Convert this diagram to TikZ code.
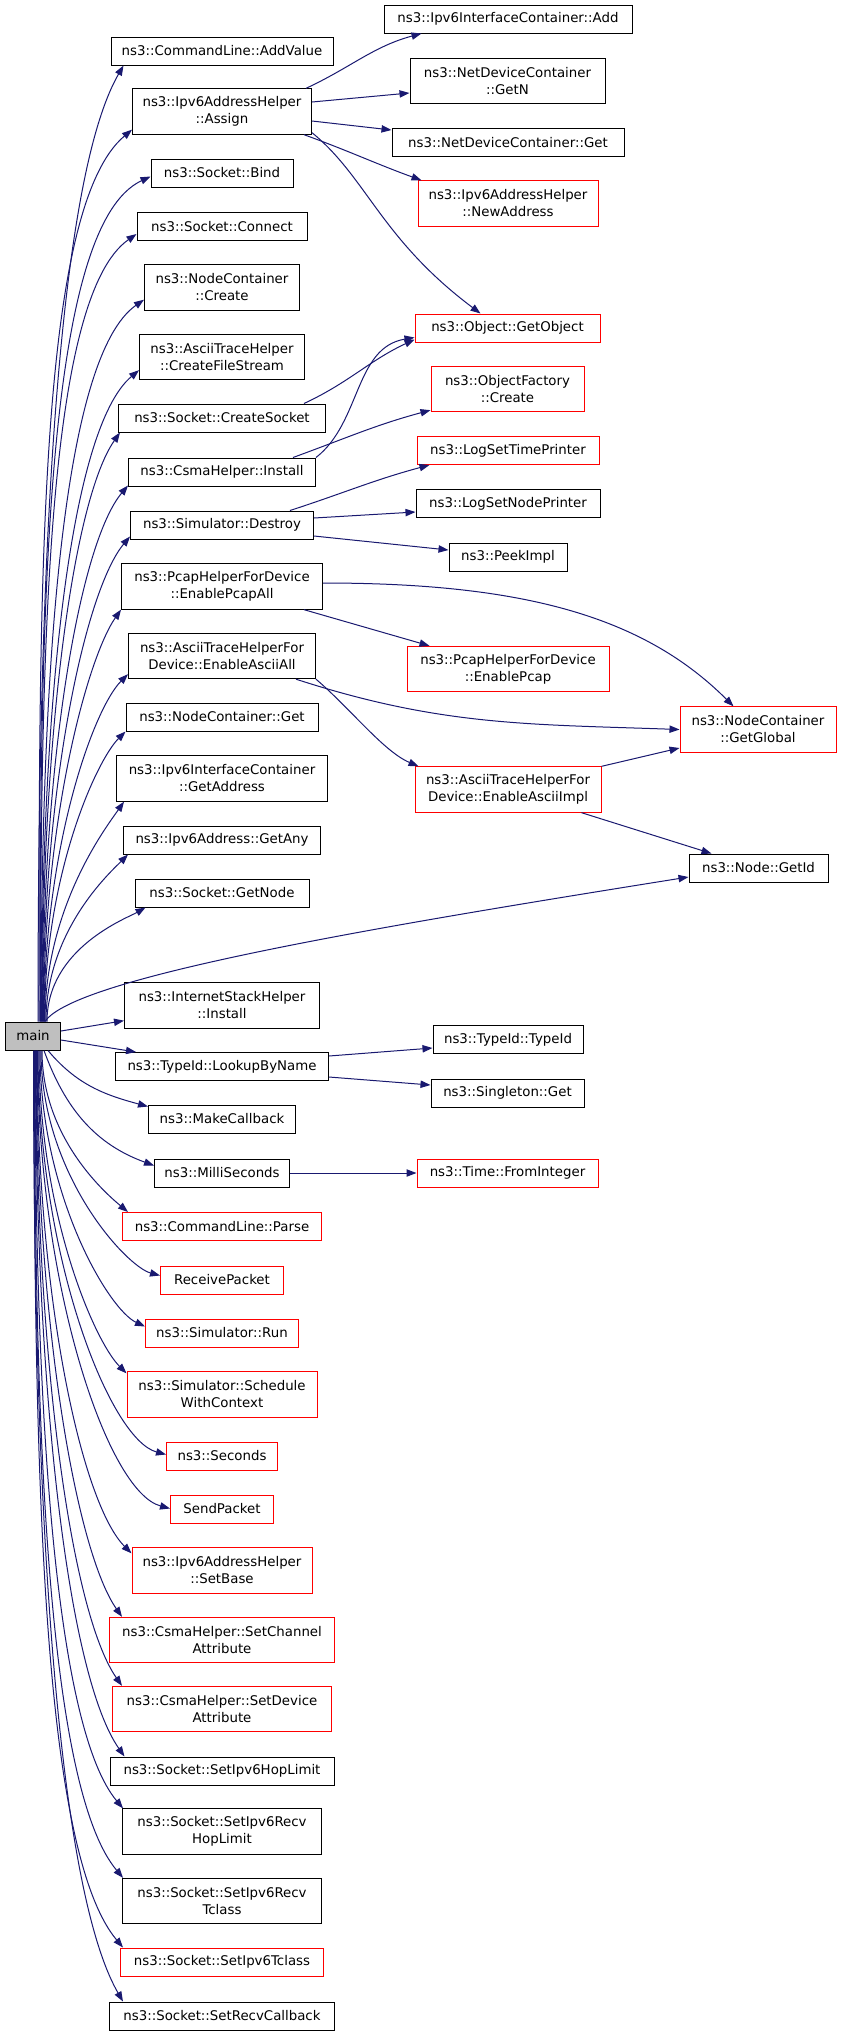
\documentclass[tikz,border=0pt]{standalone}
\usepackage{fontspec}
\setmainfont{DejaVu Sans}
\usetikzlibrary{arrows.meta}
\definecolor{edgeblue}{HTML}{191970}
\definecolor{boxgray}{HTML}{BFBFBF}

\begin{document}
\begin{tikzpicture}[x=0.75pt,y=-0.75pt,
	fn/.style={draw=black,line width=0.75pt,minimum width=#1*0.75pt,minimum height=21pt,inner sep=0pt,align=center,font=\fontsize{10}{12.75}\selectfont},
	two/.style={minimum height=34pt},
	undoc/.style={draw=red},
	call/.style={draw=edgeblue,line width=0.75pt,-{Triangle[length=7.5pt,width=5.5pt]}},
	rise/.style={out=90,in=#1,out looseness=1.25,in looseness=0.35},
	fall/.style={out=-90,in=#1,out looseness=1.25,in looseness=0.35}]
		\fill[white] (0,0) rectangle (843,2036);
		\useasboundingbox (0,0) rectangle (843,2036);
		% callees of main
		\node[fn=222] (addvalue) at (222,51) {ns3::CommandLine::AddValue};
		\node[fn=179,two] (assign) at (222,111.5) {ns3::Ipv6AddressHelper\\::Assign};
		\node[fn=142] (bind) at (222,173) {ns3::Socket::Bind};
		\node[fn=170] (connect) at (222,226.5) {ns3::Socket::Connect};
		\node[fn=155,two] (nccreate) at (222,287.5) {ns3::NodeContainer\\::Create};
		\node[fn=165,two] (filestream) at (222,357) {ns3::AsciiTraceHelper\\::CreateFileStream};
		\node[fn=207] (createsocket) at (222,418) {ns3::Socket::CreateSocket};
		\node[fn=187] (csmainstall) at (222,472) {ns3::CsmaHelper::Install};
		\node[fn=183] (destroy) at (222,525) {ns3::Simulator::Destroy};
		\node[fn=201,two] (pcapall) at (222,586.5) {ns3::PcapHelperForDevice\\::EnablePcapAll};
		\node[fn=187,two] (asciiall) at (222,656) {ns3::AsciiTraceHelperFor\\Device::EnableAsciiAll};
		\node[fn=192] (ncget) at (222,717) {ns3::NodeContainer::Get};
		\node[fn=211,two] (getaddress) at (222,778.5) {ns3::Ipv6InterfaceContainer\\::GetAddress};
		\node[fn=197] (getany) at (222,840) {ns3::Ipv6Address::GetAny};
		\node[fn=174] (getnode) at (222,893) {ns3::Socket::GetNode};
		\node[fn=195,two] (stackinstall) at (222,1005.5) {ns3::InternetStackHelper\\::Install};
		\node[fn=55,fill=boxgray] (main) at (33,1036) {main};
		\node[fn=213] (lookup) at (222,1066.5) {ns3::TypeId::LookupByName};
		\node[fn=147] (makecallback) at (222,1119) {ns3::MakeCallback};
		\node[fn=135] (millis) at (222,1173) {ns3::MilliSeconds};
		\node[fn=199,undoc] (parse) at (222,1226.5) {ns3::CommandLine::Parse};
		\node[fn=123,undoc] (receive) at (222,1280) {ReceivePacket};
		\node[fn=153,undoc] (run) at (222,1333) {ns3::Simulator::Run};
		\node[fn=190,two,undoc] (schedule) at (222,1394.5) {ns3::Simulator::Schedule\\WithContext};
		\node[fn=111,undoc] (seconds) at (222,1456) {ns3::Seconds};
		\node[fn=103,undoc] (send) at (222,1509) {SendPacket};
		\node[fn=180,two,undoc] (setbase) at (222,1570.5) {ns3::Ipv6AddressHelper\\::SetBase};
		\node[fn=225,two,undoc] (setchannel) at (222,1640) {ns3::CsmaHelper::SetChannel\\Attribute};
		\node[fn=219,two,undoc] (setdevice) at (222,1709) {ns3::CsmaHelper::SetDevice\\Attribute};
		\node[fn=224] (hoplimit) at (222,1771) {ns3::Socket::SetIpv6HopLimit};
		\node[fn=199,two] (recvhop) at (222,1831.5) {ns3::Socket::SetIpv6Recv\\HopLimit};
		\node[fn=199,two] (recvtclass) at (222,1901) {ns3::Socket::SetIpv6Recv\\Tclass};
		\node[fn=203,undoc] (tclass) at (222,1962) {ns3::Socket::SetIpv6Tclass};
		\node[fn=225] (recvcallback) at (222,2016) {ns3::Socket::SetRecvCallback};
		% second level
		\node[fn=248] (add) at (508,19) {ns3::Ipv6InterfaceContainer::Add};
		\node[fn=195,two] (getn) at (507.5,81) {ns3::NetDeviceContainer\\::GetN};
		\node[fn=232] (ndcget) at (508,142.5) {ns3::NetDeviceContainer::Get};
		\node[fn=180,two,undoc] (newaddress) at (508,203.5) {ns3::Ipv6AddressHelper\\::NewAddress};
		\node[fn=185,undoc] (getobject) at (507.5,328) {ns3::Object::GetObject};
		\node[fn=153,two,undoc] (objfactory) at (507.5,389) {ns3::ObjectFactory\\::Create};
		\node[fn=182,undoc] (timeprinter) at (508,450.5) {ns3::LogSetTimePrinter};
		\node[fn=184] (nodeprinter) at (508,503.5) {ns3::LogSetNodePrinter};
		\node[fn=118] (peekimpl) at (508,557) {ns3::PeekImpl};
		\node[fn=202,two,undoc] (enablepcap) at (508,669) {ns3::PcapHelperForDevice\\::EnablePcap};
		\node[fn=186,two,undoc] (asciiimpl) at (508,789.5) {ns3::AsciiTraceHelperFor\\Device::EnableAsciiImpl};
		\node[fn=150] (typeid) at (508,1039.5) {ns3::TypeId::TypeId};
		\node[fn=153] (singleton) at (507.5,1093) {ns3::Singleton::Get};
		\node[fn=181,undoc] (frominteger) at (507.5,1173) {ns3::Time::FromInteger};
		% third level
		\node[fn=156,two,undoc] (getglobal) at (758,729.5) {ns3::NodeContainer\\::GetGlobal};
		\node[fn=139] (nodegetid) at (758.5,868) {ns3::Node::GetId};
		% main upwards
		\foreach \t/\dx/\ex/\ey/\a in {addvalue/5/13/0/240, assign/6/0/-5/220, bind/7/0/-11/205,
			connect/7.5/0/-7/215, nccreate/8/0/-11/215, filestream/8.5/0/-10/220,
			createsocket/9/2/0/235, csmainstall/9.5/0/-1/230, destroy/10/0/-3/230,
			pcapall/10.5/0/0/235, asciiall/11/0/-5/225, ncget/11.5/0/0/225,
			getaddress/12/8/0/235, getany/13/5/0/225, getnode/14/11/0/210}
			\draw[call] ([shift={(\dx,0)}]main.north) to[rise=\a] ([shift={(\ex,\ey)}]\t.south west);
		% main downwards
		\foreach \t/\dx/\ex/\ey/\a in {parse/9/6/0/140, receive/8/0/10/165, run/7/0/8/155,
			schedule/6/0/2/135, seconds/5/0/13/165, send/4.5/0/14/165, setbase/4/0/6/135,
			setchannel/3.5/13/0/125, setdevice/3/10/0/125, hoplimit/2.5/15/0/125,
			recvhop/2/1/0/130, recvtclass/1.5/1/0/130, tclass/1/3/0/130, recvcallback/0.5/14/0/120}
			\draw[call] ([shift={(\dx,0)}]main.south) to[fall=\a] ([shift={(\ex,\ey)}]\t.north west);
		\draw[call] ([shift={(15,0)}]main.south) to[out=-50,in=165] ([shift={(0,2)}]makecallback.north west);
		\draw[call] ([shift={(11,0)}]main.south) to[out=-70,in=160] ([shift={(0,7)}]millis.north west);
		\draw[call] ([shift={(12,0)}]main.north) .. controls +(30,-45) and +(-300,48) .. ([shift={(0,9)}]nodegetid.west);
		% straight calls
		\path[every edge/.style={call}] ([shift={(0,-5)}]main.east) edge ([shift={(0,-8)}]stackinstall.south west)
		([shift={(0,4)}]main.east) edge ([shift={(21,0)}]lookup.north west)
		([shift={(0,-10.5)}]lookup.east) edge ([shift={(0,8.5)}]typeid.west)
		([shift={(0,10.5)}]lookup.east) edge ([shift={(0,-8)}]singleton.west)
		(millis) edge (frominteger)
		([shift={(0,-9.5)}]assign.east) edge ([shift={(0,12)}]getn.west)
		([shift={(0,9.5)}]assign.east) edge ([shift={(0,-12.5)}]ndcget.west)
		([shift={(0,-7)}]destroy.east) edge ([shift={(0,8.5)}]nodeprinter.west)
		([shift={(0,11)}]destroy.east) edge ([shift={(0,-7)}]peekimpl.west)
		([shift={(-19,0)}]pcapall.south east) edge ([shift={(23,0)}]enablepcap.north west)
		(asciiimpl.north east) edge ([shift={(0,18.5)}]getglobal.west)
		([shift={(-20,0)}]asciiimpl.south east) edge ([shift={(23,0)}]nodegetid.north west)
		;
		% curved calls
		\draw[call] ([shift={(-6,0)}]assign.north east) to[out=25,in=195] ([shift={(38,0)}]add.south west);
		\draw[call] ([shift={(-8,0)}]assign.south east) to[out=-20,in=160] ([shift={(4,0)}]newaddress.north west);
		\draw[call] ([shift={(0,-2)}]assign.south east) .. controls +(55,45) and +(-100,-75) .. ([shift={(66,0)}]getobject.north west);
		\draw[call] ([shift={(-22,0)}]createsocket.north east) to[out=25,in=205] ([shift={(0,-3)}]getobject.south west);
		\draw[call] (csmainstall.north east) .. controls +(45,-35) and +(-60,10) .. ([shift={(0,-5)}]getobject.south west);
		\draw[call] ([shift={(-23,0)}]csmainstall.north east) to[out=20,in=195] ([shift={(0,-2)}]objfactory.south west);
		\draw[call] ([shift={(-24,0)}]destroy.north east) to[out=18,in=195] ([shift={(13,0)}]timeprinter.south west);
		\draw[call] ([shift={(0,-3.5)}]pcapall.east) .. controls +(200,0) and +(-90,-90) .. ([shift={(54,0)}]getglobal.north west);
		\draw[call] ([shift={(-20,0)}]asciiall.south east) to[out=-18,in=178] (getglobal.west);
		\draw[call] (asciiall.south east) .. controls +(35,30) and +(-35,-15) .. ([shift={(4,0)}]asciiimpl.north west);
	\end{tikzpicture}
\end{document}
